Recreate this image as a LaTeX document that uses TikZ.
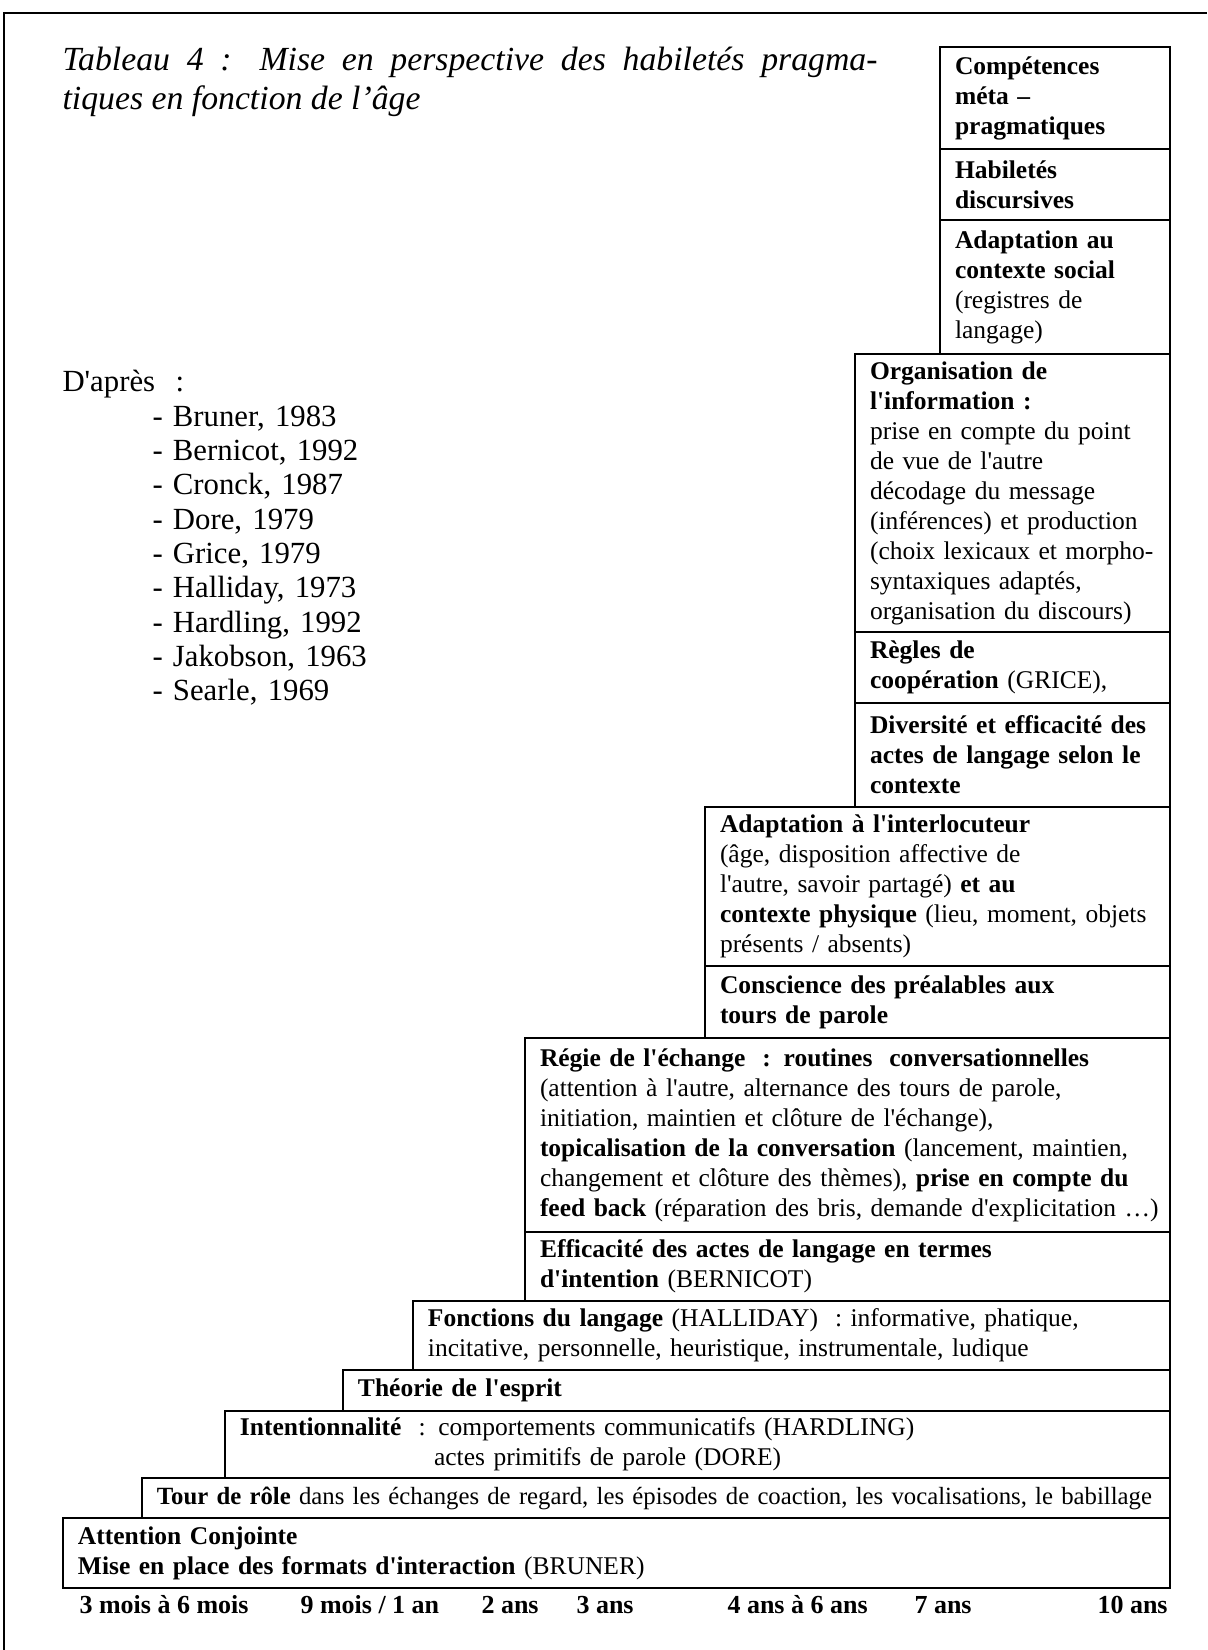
\documentclass[tikz,border=0pt]{standalone}
\usepackage{fontspec}
\setmainfont{Liberation Serif}[Ligatures=TeXOff]
\begin{document}
\begin{tikzpicture}[x=0.4pt, y=-0.4pt,
    stair/.style 2 args={draw, line width=0.9pt, anchor=north east, outer sep=0pt,
      inner xsep=6pt, inner ysep=0pt, minimum width=#1, minimum height=#2,
      text width=#1-12pt, font=\fontsize{10.2}{12}\selectfont},
    age/.style={anchor=base west, inner sep=0pt, font=\fontsize{10.4}{12}\selectfont\bfseries}]
  \path[use as bounding box, fill=white] (0,0) rectangle (1207,1650);
  \draw[line width=0.8pt] (4,1650) -- (4,13) -- (1207,13);

  \node[anchor=base west, inner sep=0pt, text width=326pt, align=justify,
    font=\fontsize{13.5}{15.6}\selectfont\itshape] (title) at (62,71)
    {Tableau 4 : Mise en perspective des habiletés pragma-\linebreak tiques en fonction de l’âge};

  \node[anchor=base west, inner sep=0pt, text width=150pt,
    font=\fontsize{12.3}{13.72}\selectfont] (sources) at (62,392)
    {D'après~~:\\
      \hspace*{36pt}- Bruner, 1983\\
      \hspace*{36pt}- Bernicot, 1992\\
      \hspace*{36pt}- Cronck, 1987\\
      \hspace*{36pt}- Dore, 1979\\
      \hspace*{36pt}- Grice, 1979\\
      \hspace*{36pt}- Halliday, 1973\\
      \hspace*{36pt}- Hardling, 1992\\
      \hspace*{36pt}- Jakobson, 1963\\
      \hspace*{36pt}- Searle, 1969};

  \node[stair={92pt}{40.8pt}] (comp) at (1170,47)
    {\textbf{Compétences}\\\textbf{méta –}\\\textbf{pragmatiques}};
  \node[stair={92pt}{28.4pt}] (disc) at (comp.south east)
    {\textbf{Habiletés}\\\textbf{discursives}};
  \node[stair={92pt}{53.6pt}] (social) at (disc.south east)
    {\textbf{Adaptation au}\\\textbf{contexte social}\\(registres de\\langage)};
  \node[stair={126pt}{111.2pt}] (orga) at (social.south east)
    {\textbf{Organisation de}\\\textbf{l'information :}\\prise en compte du point\\de vue de l'autre\\décodage du message\\(inférences) et production\\(choix lexicaux et morpho-\\syntaxiques adaptés,\\organisation du discours)};
  \node[stair={126pt}{28.4pt}] (regles) at (orga.south east)
    {\textbf{Règles de}\\\textbf{coopération} (GRICE),};
  \node[stair={126pt}{41.6pt}] (divers) at (regles.south east)
    {\textbf{Diversité et efficacité des}\\\textbf{actes de langage selon le}\\\textbf{contexte}};
  \node[stair={186pt}{63.6pt}] (interloc) at (divers.south east)
    {\textbf{Adaptation à l'interlocuteur}\\(âge, disposition affective de\\l'autre, savoir partagé) \textbf{et au}\\\textbf{contexte physique} (lieu, moment, objets\\présents / absents)};
  \node[stair={186pt}{28.8pt}] (consc) at (interloc.south east)
    {\textbf{Conscience des préalables aux}\\\textbf{tours de parole}};
  \node[stair={258pt}{77.6pt}] (regie) at (consc.south east)
    {\textbf{Régie de l'échange~~: routines~~conversationnelles}\\(attention à l'autre, alternance des tours de parole,\\initiation, maintien et clôture de l'échange),\\\textbf{topicalisation de la conversation} (lancement, maintien,\\changement et clôture des thèmes), \textbf{prise en compte du}\\\mbox{\textbf{feed back} (réparation des bris, demande d'explicitation …)}};
  \node[stair={258pt}{27.6pt}] (effic) at (regie.south east)
    {\textbf{Efficacité des actes de langage en termes}\\\textbf{d'intention} (BERNICOT)};
  \node[stair={302.8pt}{27.6pt}] (fonct) at (effic.south east)
    {\textbf{Fonctions du langage} (HALLIDAY)~~: informative, phatique,\\incitative, personnelle, heuristique, instrumentale, ludique};
  \node[stair={330.8pt}{16.4pt}] (esprit) at (fonct.south east)
    {\textbf{Théorie de l'esprit}};
  \node[stair={378pt}{26.8pt}] (intent) at (esprit.south east)
    {\textbf{Intentionnalité}~~: comportements communicatifs (HARDLING)\\\phantom{\textbf{Intentionnalité}~~:~}actes primitifs de parole (DORE)};
  \node[stair={411.2pt}{16pt}, font=\fontsize{9.9}{12}\selectfont] (tour) at (intent.south east)
    {\mbox{\textbf{Tour de rôle} dans les échanges de regard, les épisodes de coaction, les vocalisations, le babillage}};
  \node[stair={442.8pt}{28pt}] (attention) at (tour.south east)
    {\textbf{Attention Conjointe}\\\textbf{Mise en place des formats d'interaction} (BRUNER)};

  \node[age] (m3) at (79,1613) {3 mois à 6 mois};
  \node[age] (m9) at (300,1613) {9 mois / 1 an};
  \node[age] (y2) at (481,1613) {2 ans};
  \node[age] (y3) at (576,1613) {3 ans};
  \node[age] (y4) at (727,1613) {4 ans à 6 ans};
  \node[age] (y7) at (914,1613) {7 ans};
  \node[age] (y10) at (1097,1613) {10 ans};
\end{tikzpicture}
\end{document}
